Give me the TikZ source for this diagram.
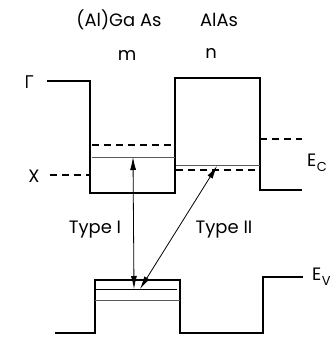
\documentclass[tikz,border=0pt]{standalone}
\usepackage{fontspec}
\setmainfont{Poppins}
\newfontfamily\greekfont{Open Sans}
\usetikzlibrary{arrows.meta}
\begin{document}
\begin{tikzpicture}[x=1bp,y=-1bp,
  band/.style={line width=1.5bp, line join=miter},
  xlev/.style={line width=1.4bp, dash pattern=on 7bp off 5bp},
  sublev/.style={line width=0.7bp, black!65},
  lbl/.style={inner sep=0pt, font=\fontsize{18}{18}\selectfont},
  trans/.style={line width=0.8bp, {Latex[length=13bp,width=6bp]}-{Latex[length=13bp,width=6bp]}}]
\useasboundingbox (0,0) rectangle (330,337);
\clip (0,0) rectangle (330,337);
% conduction band (Gamma)
\draw[band] (47,81) -- (90,81) -- (90,193) -- (175,193) -- (175,78) -- (260,78) -- (260,190) -- (302,190);
% X levels
\draw[xlev] (50,175) -- (90,175);
\draw[xlev] (92,145) -- (175,145);
\draw[xlev] (176,170) -- (260,170);
\draw[xlev] (260,139) -- (302,139);
% confined conduction levels
\draw[sublev] (92,157) -- (175,157);
\draw[sublev] (176,165) -- (260,165);
% valence band
\draw[band] (55,333) -- (95,333) -- (95,280) -- (180,280) -- (180,333) -- (263,333) -- (263,277) -- (303,277);
\draw[line width=0.9bp] (95,289) -- (177,289);
\draw[sublev] (95,300) -- (180,300);
% transitions
\coordinate (eI) at (133,157);
\coordinate (hI) at (134,289);
\coordinate (eII) at (217,166);
\coordinate (hII) at (140,289);
\draw[trans] (eI) -- (hI);
\draw[trans] (eII) -- (hII);
% labels
\node[lbl] (matA) at (119,20) {(Al)Ga As};
\node[lbl] (matB) at (219,20) {AlAs};
\node[lbl] (m) at (127,55) {m};
\node[lbl] (n) at (211,53) {n};
\node[lbl] (gam) at (29,82) {\greekfont Γ};
\node[lbl] (xl) at (34,176) {X};
\node[lbl] (t1) at (95,230) {Type I};
\node[lbl] (t2) at (224,230) {Type II};
\node[lbl, anchor=west] (ec) at (307,163) {E\kern0.5pt\raisebox{-5pt}{\fontsize{13}{13}\selectfont C}};
\node[lbl, anchor=west] (ev) at (312,277) {E\kern0.5pt\raisebox{-5pt}{\fontsize{13}{13}\selectfont V}};
\end{tikzpicture}
\end{document}
